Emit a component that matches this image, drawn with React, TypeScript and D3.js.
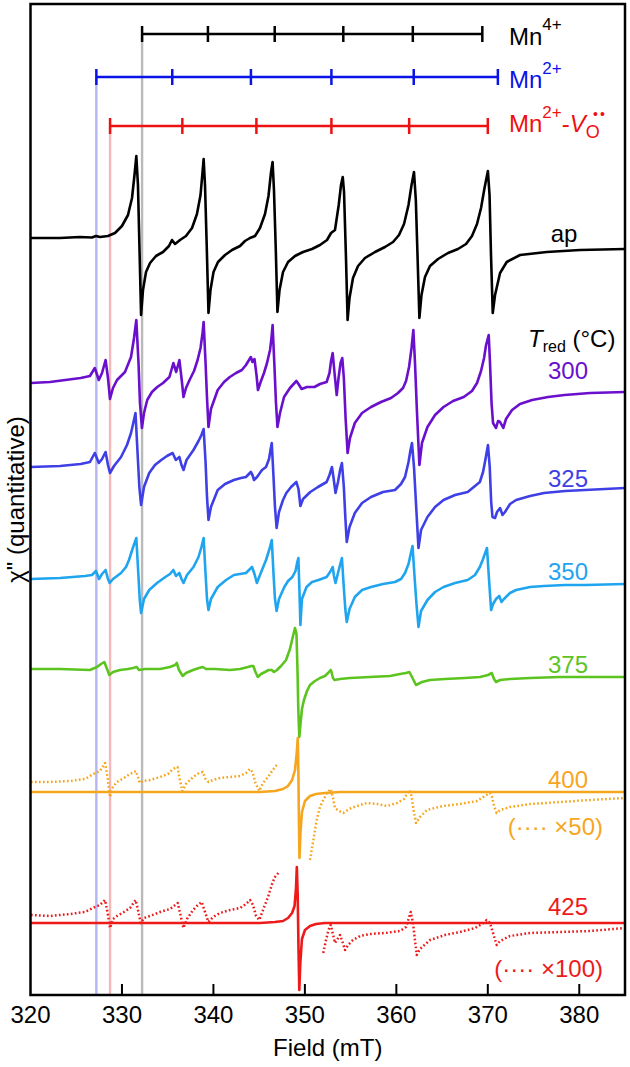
import React from "react";
import * as d3 from "d3";

type Pt = [number, number];

// ---- axis / annotation data ----
const fieldTicks = [320, 330, 340, 350, 360, 370, 380];
const mn4Lines = [332.2, 339.4, 346.7, 354.2, 361.8, 369.4];
const mn2Lines = [327.2, 335.5, 344.1, 352.9, 361.9, 371.1];
const mnVLines = [328.7, 336.6, 344.7, 352.9, 361.4, 370.0];
const stickLevels = [961, 918, 869]; // Mn4+, Mn2+, Mn2+-VO rows (arb. units)

// ---- spectra: [field (mT), signal (arb.)] ----
const apData: Pt[] = [
  [320.05, 0], [323.23, 0], [325.41, 1], [326.72, 0.5], [327.16, 2], [327.6, 1], [328.47, 2], [329.24, 5],
  [330.0, 12], [330.66, 23], [331.1, 40], [331.37, 63], [331.57, 82], [331.75, 53], [331.92, -12], [332.09, -77],
  [332.3, -52], [332.63, -34], [333.07, -25], [333.72, -18], [334.49, -14], [335.14, -8], [335.47, -2], [335.8, -6],
  [336.35, -2], [337.0, 2], [337.66, 10], [338.2, 24], [338.59, 43], [338.81, 66], [338.93, 79], [339.08, 53],
  [339.28, -12], [339.46, -75], [339.68, -52], [340.01, -34], [340.5, -24], [341.27, -17], [342.03, -12], [342.91, -8],
  [343.45, -3], [344.0, 0], [344.55, 2], [345.09, 10], [345.64, 24], [346.02, 42], [346.3, 66], [346.47, 76],
  [346.62, 48], [346.82, -12], [347.0, -74], [347.23, -52], [347.61, -34], [348.16, -24], [348.92, -18], [349.8, -14],
  [350.78, -11], [351.65, -7], [352.42, -2], [352.86, 5], [353.29, 8], [353.7, 33], [353.95, 53], [354.14, 61],
  [354.28, 46], [354.5, -22], [354.67, -82], [354.88, -60], [355.26, -40], [355.81, -28], [356.57, -20], [357.67, -14],
  [358.76, -9], [359.64, -4], [360.29, 3], [360.84, 14], [361.33, 33], [361.66, 53], [361.93, 66], [362.13, 38],
  [362.33, -22], [362.52, -80], [362.75, -57], [363.13, -39], [363.68, -28], [364.56, -21], [365.65, -15], [366.74, -11],
  [367.62, -6], [368.27, 2], [368.82, 14], [369.26, 30], [369.64, 50], [370.01, 67], [370.19, 43], [370.35, -17],
  [370.54, -75], [370.79, -57], [371.34, -35], [372.07, -24], [373.52, -17], [376.44, -14], [380.08, -12], [385.0, -11],
];

const t300Data: Pt[] = [
  [320.05, 0], [322.13, 1], [325.48, 5], [326.5, 7], [327.03, 15], [327.47, 3], [327.82, 10], [328.21, 23],
  [328.47, 5], [328.69, -16], [329.02, -5], [329.46, 3], [330.33, 11], [330.99, 26], [331.32, 45], [331.57, 63],
  [331.81, 20], [331.97, -20], [332.18, -45], [332.41, -30], [332.76, -17], [333.28, -9], [333.86, -4], [334.49, 0],
  [335.19, 6], [335.62, 20], [335.93, 11], [336.28, 23], [336.51, 5], [336.73, -14], [337.0, -5], [337.39, 3],
  [337.88, 12], [338.27, 23], [338.59, 35], [338.81, 50], [338.93, 61], [339.14, 20], [339.3, -15], [339.46, -44],
  [339.73, -26], [340.47, -7], [341.16, 1], [341.79, 6], [342.47, 10], [343.11, 13], [343.56, 18], [344.09, 26],
  [344.27, 21], [344.49, 24], [344.71, 8], [344.87, -7], [345.2, 2], [345.53, 10], [345.86, 20], [346.19, 33],
  [346.35, 45], [346.47, 58], [346.68, 15], [346.84, -20], [347.0, -44], [347.28, -30], [347.72, -14], [348.37, -5],
  [349.07, 2], [349.3, -1], [349.64, -6], [350.23, -4], [351.05, -4], [351.65, -1], [352.38, 1], [352.69, 10],
  [352.86, 22], [353.04, 30], [353.24, 10], [353.48, -12], [353.68, 5], [353.9, 20], [354.09, 25], [354.26, 5],
  [354.45, -35], [354.67, -70], [354.93, -55], [355.46, -40], [356.25, -30], [357.23, -24], [358.32, -19], [359.42, -15],
  [360.18, -10], [360.73, -5], [361.06, 2], [361.39, 16], [361.66, 35], [361.86, 53], [362.04, 20], [362.26, -30],
  [362.52, -82], [362.8, -60], [363.4, -44], [364.23, -32], [365.16, -24], [366.2, -18], [367.37, -14], [368.27, -8],
  [368.82, 0], [369.26, 12], [369.59, 25], [369.81, 38], [370.1, 48], [370.24, 20], [370.41, -20], [370.57, -40],
  [370.9, -45], [371.12, -38], [371.34, -39], [371.69, -45], [371.99, -36], [372.65, -27], [373.52, -21], [374.84, -17],
  [376.59, -14], [378.39, -12], [381.18, -10], [385.0, -9],
];

const t325Data: Pt[] = [
  [320.05, 0], [323.23, 1], [325.48, 3], [326.5, 5], [327.03, 14], [327.47, 4], [327.82, 8], [328.21, 15],
  [328.47, 2], [328.69, -6], [329.13, 1], [329.9, 10], [330.55, 22], [330.99, 34], [331.26, 45], [331.48, 54],
  [331.7, 15], [331.9, -20], [332.09, -38], [332.41, -20], [332.98, -6], [333.61, 2], [334.3, 7], [334.92, 11],
  [335.54, 14], [335.89, 7], [336.28, 10], [336.51, 2], [336.73, -3], [337.06, 7], [337.82, 17], [338.37, 26],
  [338.69, 32], [338.93, 38], [339.14, 5], [339.3, -30], [339.46, -53], [339.73, -40], [340.47, -23], [341.27, -17],
  [342.24, -13], [343.01, -11], [343.56, -10], [344.09, -5], [344.27, -8], [344.44, -13], [344.77, -10], [345.31, -3],
  [345.75, 0], [346.08, 8], [346.24, 17], [346.38, 24], [346.57, -10], [346.73, -40], [346.91, -61], [347.17, -45],
  [347.61, -33], [347.97, -26], [348.49, -20], [349.07, -15], [349.3, -22], [349.51, -39], [349.8, -32], [350.59, -25],
  [351.43, -20], [352.38, -15], [352.69, -8], [352.96, 0], [353.15, -12], [353.35, -26], [353.62, -15], [353.87, -2],
  [354.05, 4], [354.26, -20], [354.42, -50], [354.58, -75], [354.88, -60], [355.46, -46], [356.25, -36], [357.23, -30],
  [358.54, -25], [359.85, -23], [360.51, -17], [360.95, -10], [361.33, 5], [361.55, 17], [361.71, 24], [361.93, 0],
  [362.2, -45], [362.42, -81], [362.7, -63], [363.4, -50], [364.23, -40], [365.16, -33], [366.42, -28], [367.8, -25],
  [368.6, -19], [369.13, -15], [369.48, -5], [369.75, 8], [370.02, 22], [370.21, 0], [370.37, -35], [370.51, -50],
  [370.79, -51], [371.01, -45], [371.34, -41], [371.61, -48], [371.88, -45], [372.43, -37], [373.09, -33], [374.62, -29],
  [376.15, -26], [378.45, -24], [380.63, -23], [385.0, -21],
];

const t350Data: Pt[] = [
  [320.05, 0], [323.23, 1], [325.96, 3], [326.72, 4], [327.16, 8], [327.49, 0], [327.82, 5], [328.21, 9],
  [328.47, 0], [328.66, -4], [329.02, 0], [329.9, 6], [330.44, 12], [330.77, 19], [331.15, 30], [331.57, 41],
  [331.79, 5], [331.94, -20], [332.09, -34], [332.41, -20], [332.98, -11], [333.83, -4], [334.74, 2], [335.25, 5],
  [335.62, 9], [335.91, 3], [336.28, 6], [336.51, 0], [336.73, -4], [337.11, 4], [337.82, 12], [338.37, 22],
  [338.69, 32], [338.93, 41], [339.14, 5], [339.3, -20], [339.46, -31], [339.73, -20], [340.47, -8], [341.38, -1],
  [342.24, 4], [343.56, 6], [344.22, 12], [344.49, 5], [344.75, -4], [345.09, 4], [345.75, 19], [346.13, 30],
  [346.38, 39], [346.57, 5], [346.73, -20], [346.91, -32], [347.17, -20], [347.75, -8], [348.16, -2], [348.63, 2],
  [348.98, 8], [349.17, 17], [349.29, 21], [349.4, -10], [349.51, -46], [349.68, -20], [350.18, -8], [350.78, -3],
  [351.49, -1], [352.38, 2], [352.75, 7], [353.04, 12], [353.18, 3], [353.35, -4], [353.62, 6], [353.9, 16],
  [354.05, 21], [354.23, -5], [354.42, -30], [354.58, -43], [354.88, -30], [355.46, -18], [356.25, -11], [357.23, -8],
  [358.54, -5], [359.85, -3], [360.51, 0], [360.95, 6], [361.33, 15], [361.57, 25], [361.77, 33], [361.97, 5],
  [362.2, -25], [362.42, -48], [362.7, -32], [363.4, -21], [364.23, -13], [365.16, -8], [366.42, -4], [367.8, -1],
  [368.6, 4], [369.13, 12], [369.48, 20], [369.75, 27], [369.91, 31], [370.13, 0], [370.36, -31], [370.57, -25],
  [370.9, -20], [371.25, -17], [371.5, -23], [371.77, -20], [372.43, -14], [373.09, -11], [374.62, -8], [376.15, -7],
  [378.45, -6], [380.63, -6], [385.0, -5],
];

const t375Data: Pt[] = [
  [320.05, 0], [323.23, 0], [326.5, -1], [327.27, 2], [327.71, 5], [328.07, 7], [328.37, 0], [328.62, -6],
  [329.02, -3], [329.79, -1], [330.66, 0], [331.21, 1], [331.61, 2], [331.86, -1], [332.52, 0], [334.16, 0],
  [335.25, 2], [335.8, 4], [335.99, 6], [336.24, -1], [336.64, -7], [337.0, -4], [337.77, -1], [338.42, 1],
  [338.83, 2], [339.19, 0], [340.17, 0], [341.81, -1], [342.91, 0], [343.78, 2], [344.16, 3], [344.36, 3],
  [344.6, -3], [344.85, -8], [345.2, -5], [345.64, -3], [346.04, -1], [346.37, -1], [346.62, -3], [346.95, -1],
  [347.39, 3], [347.94, 9], [348.37, 20], [348.7, 33], [348.92, 41], [349.08, 35], [349.19, 0], [349.28, -40],
  [349.39, -68], [349.52, -55], [349.68, -40], [349.9, -31], [350.23, -22], [350.56, -16], [351.1, -12], [351.65, -9],
  [352.2, -7], [352.53, -4], [352.82, -1], [352.91, -3], [353.07, -9], [353.24, -11], [353.84, -10], [354.93, -9],
  [357.12, -8], [359.31, -7], [360.4, -5], [361.06, -4], [361.42, -3], [361.71, -8], [362.15, -16], [362.8, -13],
  [363.68, -11], [365.32, -10], [367.5, -9], [369.14, -8], [370.02, -6], [370.43, -4], [370.68, -10], [370.9, -13],
  [371.34, -11], [372.43, -10], [374.62, -9], [377.9, -8], [385.0, -8],
];

const t400Data: Pt[] = [
  [320.05, 0], [338.53, 0], [345.09, 0], [346.73, 1], [347.61, 3], [348.16, 6], [348.6, 12], [348.92, 22],
  [349.12, 40], [349.22, 54], [349.29, 20], [349.35, -30], [349.41, -66], [349.52, -40], [349.68, -20], [350.01, -9],
  [350.56, -4], [351.21, -2], [352.2, -1], [353.84, 0], [385.0, 0],
];

const t400x50Left: Pt[] = [
  [320.05, 0], [322.13, 0], [324.32, 1], [325.96, 3], [327.05, 9], [327.6, 11], [328.15, 19], [328.42, 5],
  [328.69, -15], [329.02, -5], [329.46, 0], [330.22, 4], [330.88, 8], [331.53, 11], [331.75, 5], [331.95, -1],
  [332.3, 1], [333.07, 2], [334.16, 5], [335.03, 8], [335.47, 12], [335.8, 14], [336.07, 15], [336.29, 4],
  [336.6, -9], [337.0, -2], [337.77, 5], [338.42, 9], [338.83, 10], [339.14, 3], [339.45, 0], [339.96, 2],
  [340.72, 4], [341.81, 5], [342.91, 6], [343.56, 9], [344.0, 13], [344.27, 10], [344.6, -1], [345.01, -9],
  [345.42, -1], [345.97, 5], [346.41, 11], [346.92, 17],
];
const t400x50Right: Pt[] = [
  [350.56, -78], [350.89, -60], [351.29, -38], [351.65, -25], [352.01, -18], [352.42, -11], [352.82, -7], [353.07, -16],
  [353.29, -26], [353.73, -29], [354.2, -31], [354.83, -27], [355.7, -24], [356.79, -21], [357.89, -22], [358.98, -24],
  [360.07, -21], [360.84, -17], [361.42, -8], [361.66, -14], [361.88, -28], [362.15, -41], [362.59, -35], [363.35, -28],
  [365.1, -24], [366.96, -22], [368.82, -19], [369.69, -14], [370.24, -11], [370.46, -15], [370.68, -24], [370.97, -31],
  [371.34, -28], [372.43, -25], [374.62, -22], [377.9, -20], [381.18, -18], [385.0, -16],
];

const t425Data: Pt[] = [
  [320.05, 0], [345.09, 0], [346.73, 1], [347.61, 2], [348.16, 5], [348.6, 10], [348.87, 17], [349.03, 35],
  [349.12, 56], [349.21, 30], [349.31, -30], [349.39, -67], [349.5, -40], [349.68, -16], [350.01, -7], [350.56, -3],
  [351.21, -1], [352.2, 0], [385.0, 0],
];

const t425x100Left: Pt[] = [
  [320.05, 0], [322.13, -1], [324.32, 1], [325.96, 3], [327.05, 8], [327.6, 10], [328.15, 15], [328.42, 3],
  [328.69, -13], [329.02, -4], [329.46, -1], [330.22, 3], [330.88, 7], [331.5, 15], [331.75, 5], [332.05, -8],
  [332.41, -3], [333.07, -1], [334.16, 3], [335.25, 6], [336.1, 12], [336.4, 0], [336.71, -13], [337.11, -4],
  [337.77, 5], [338.31, 10], [338.72, 13], [339.08, 3], [339.45, -7], [339.96, -2], [340.72, 2], [341.81, 5],
  [342.91, 7], [343.56, 11], [344.0, 15], [344.33, 10], [344.66, -1], [345.01, -5], [345.42, 5], [345.97, 18],
  [346.41, 31], [346.73, 38], [347.09, 42],
];
const t425x100Right: Pt[] = [
  [352.01, -38], [352.31, -25], [352.58, -15], [352.82, -10], [353.01, -17], [353.29, -28], [353.57, -24], [353.84, -20],
  [354.12, -27], [354.39, -35], [354.72, -30], [355.26, -25], [356.03, -21], [357.12, -19], [358.76, -18], [360.4, -16],
  [361.06, -12], [361.57, 3], [361.82, -8], [362.23, -40], [362.59, -34], [363.68, -25], [365.32, -20], [366.96, -17],
  [368.6, -13], [369.37, -9], [369.88, -5], [370.24, -8], [370.57, -18], [370.97, -30], [371.34, -26], [372.43, -21],
  [374.62, -18], [377.9, -17], [381.18, -16], [385.0, -13],
];

type Series = { key: string; segments: Pt[][]; offset: number; color: string; dotted: boolean };
const spectra: Series[] = [
  { key: "ap", segments: [apData], offset: 757, color: "#000000", dotted: false },
  { key: "300", segments: [t300Data], offset: 612, color: "#6a0fcc", dotted: false },
  { key: "325", segments: [t325Data], offset: 528, color: "#3f3fe6", dotted: false },
  { key: "350", segments: [t350Data], offset: 416, color: "#1fa5ef", dotted: false },
  { key: "375", segments: [t375Data], offset: 326, color: "#5cc41f", dotted: false },
  { key: "400x50", segments: [t400x50Left, t400x50Right], offset: 213, color: "#f6a61e", dotted: true },
  { key: "400", segments: [t400Data], offset: 203, color: "#f6a61e", dotted: false },
  { key: "425x100", segments: [t425x100Left, t425x100Right], offset: 80, color: "#ee1a1a", dotted: true },
  { key: "425", segments: [t425Data], offset: 72, color: "#ee1a1a", dotted: false },
];

const tempLabels = [
  { text: "300", level: 616, color: "#6a0fcc" },
  { text: "325", level: 508, color: "#3f3fe6" },
  { text: "350", level: 415, color: "#1fa5ef" },
  { text: "375", level: 322, color: "#5cc41f" },
  { text: "400", level: 207, color: "#f6a61e" },
  { text: "425", level: 80, color: "#ee1a1a" },
];

const FONT = "'Liberation Sans', Arial, Helvetica, sans-serif";

export default function App() {
  const left = 30.5, right = 625, top = 4, bottom = 995;
  const x = d3.scaleLinear().domain([320, 385]).range([left, right]);
  const y = d3.scaleLinear().domain([0, 991]).range([bottom, top]);

  const mkLine = (offset: number) =>
    d3.line<Pt>().x((d) => x(d[0])).y((d) => y(offset + d[1]));

  const stickRows = [
    { lines: mn4Lines, level: stickLevels[0], color: "#000000", guide: "#bababa" },
    { lines: mn2Lines, level: stickLevels[1], color: "#0a14e6", guide: "#b6b6f4" },
    { lines: mnVLines, level: stickLevels[2], color: "#ee1111", guide: "#f4b8b8" },
  ];

  return (
    <svg width={630} height={1067} style={{ position: "absolute", left: 0, top: 0, background: "#fff" }} fontFamily={FONT}>
      <defs>
        <clipPath id="plotclip">
          <rect x={left} y={top} width={right - left} height={bottom - top} />
        </clipPath>
      </defs>
      {/* guide lines */}
      {stickRows.map((r, i) => (
        <line key={"g" + i} x1={x(r.lines[0])} x2={x(r.lines[0])} y1={y(r.level)} y2={bottom}
          stroke={r.guide} strokeWidth={2.4} />
      ))}
      {/* spectra */}
      <g clipPath="url(#plotclip)">
        {spectra.map((s) =>
          s.segments.map((seg, j) => (
            <path key={s.key + j} d={mkLine(s.offset)(seg) || ""} fill="none" stroke={s.color}
              strokeWidth={s.dotted ? 2.5 : 2.6} strokeDasharray={s.dotted ? "1.7 2.3" : undefined}
              strokeLinejoin="round" />
          ))
        )}
      </g>
      {/* stick diagrams */}
      {stickRows.map((r, i) => (
        <g key={"s" + i} stroke={r.color} strokeWidth={2.5}>
          <line x1={x(r.lines[0])} x2={x(r.lines[r.lines.length - 1])} y1={y(r.level)} y2={y(r.level)} />
          {r.lines.map((v, k) => (
            <line key={k} x1={x(v)} x2={x(v)} y1={y(r.level) - 8} y2={y(r.level) + 8} />
          ))}
        </g>
      ))}
      {/* frame */}
      <rect x={left} y={top} width={right - left} height={bottom - top} fill="none" stroke="#000" strokeWidth={2.5} />
      {/* x ticks */}
      {fieldTicks.map((t) => (
        <g key={t}>
          {t > 320 && <line x1={x(t)} x2={x(t)} y1={bottom} y2={bottom - 11} stroke="#000" strokeWidth={2} />}
          <text x={x(t)} y={1023} fontSize={24} textAnchor="middle" fill="#000">{t}</text>
        </g>
      ))}
      <text x={(left + right) / 2} y={1056} fontSize={24} textAnchor="middle" fill="#000">Field (mT)</text>
      <text transform={`translate(24, ${(top + bottom) / 2}) rotate(-90)`} fontSize={24} textAnchor="middle" fill="#000">
        χ" (quantitative)
      </text>
      {/* species labels */}
      <text x={509} y={45} fontSize={24} fill="#000">Mn<tspan dy={-15} fontSize={17}>4+</tspan></text>
      <text x={509} y={88} fontSize={24} fill="#0a14e6">Mn<tspan dy={-14} fontSize={17}>2+</tspan></text>
      <text x={509} y={132} fontSize={24} fill="#ee1111">
        Mn<tspan dy={-14} fontSize={17}>2+</tspan><tspan dy={14}>-</tspan><tspan fontStyle="italic">V</tspan>
        <tspan dy={6} fontSize={18}>O</tspan>
      </text>
      <text x={593} y={119} fontSize={14} fill="#ee1111" letterSpacing={2}>••</text>
      {/* spectrum labels */}
      <text x={564} y={242} fontSize={24} textAnchor="middle" fill="#000">ap</text>
      <text x={528} y={347} fontSize={24} fill="#000">
        <tspan fontStyle="italic">T</tspan><tspan dy={5} fontSize={16}>red</tspan><tspan dy={-5}> (°C)</tspan>
      </text>
      {tempLabels.map((l) => (
        <text key={l.text} x={588} y={y(l.level)} fontSize={24} textAnchor="end" fill={l.color}>{l.text}</text>
      ))}
      <text x={603} y={835} fontSize={24} textAnchor="end" fill="#f6a61e">(···· ×50)</text>
      <text x={603} y={977} fontSize={24} textAnchor="end" fill="#ee1a1a">(···· ×100)</text>
    </svg>
  );
}
